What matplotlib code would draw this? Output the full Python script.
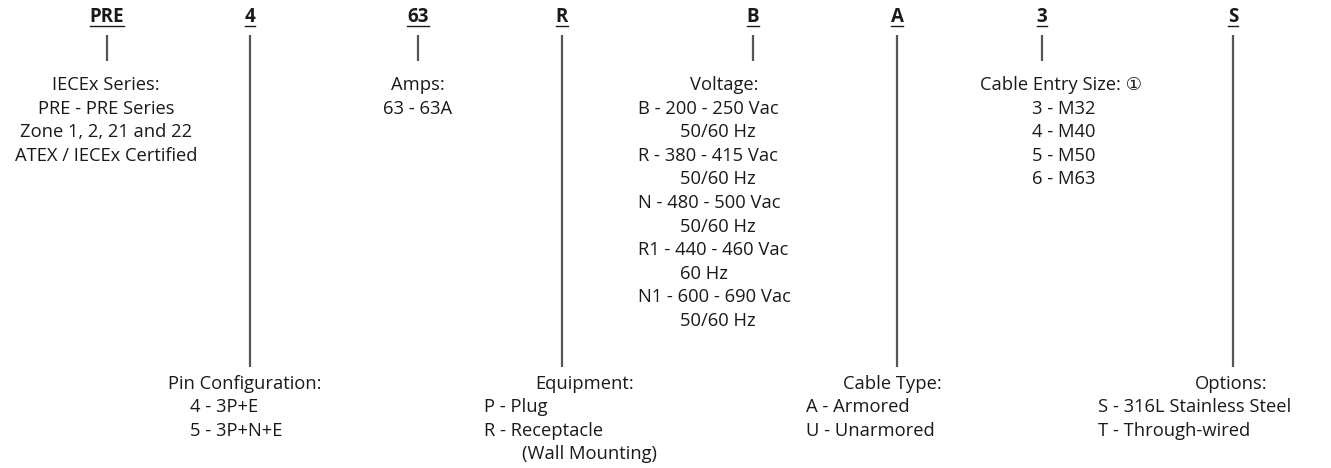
import matplotlib.pyplot as plt
import matplotlib

plt.rcParams['font.family'] = ['Open Sans', 'DejaVu Sans']

# code letters of the part number, left to right
codes = ['PRE', '4', '63', 'R', 'B', 'A', '3', 'S']

# description block for each code
titles = ['IECEx Series:', 'Pin Configuration:', 'Amps:', 'Equipment:',
          'Voltage:', 'Cable Type:', 'Cable Entry Size: \u2460', 'Options:']
items = [
    ['PRE - PRE Series', 'Zone 1, 2, 21 and 22', 'ATEX / IECEx Certified'],
    ['4 - 3P+E', '5 - 3P+N+E'],
    ['63 - 63A'],
    ['P - Plug', 'R - Receptacle', '(Wall Mounting)'],
    ['B - 200 - 250 Vac', '50/60 Hz', 'R - 380 - 415 Vac', '50/60 Hz',
     'N - 480 - 500 Vac', '50/60 Hz', 'R1 - 440 - 460 Vac', '60 Hz',
     'N1 - 600 - 690 Vac', '50/60 Hz'],
    ['A - Armored', 'U - Unarmored'],
    ['3 - M32', '4 - M40', '5 - M50', '6 - M63'],
    ['S - 316L Stainless Steel', 'T - Through-wired'],
]
# lines that continue the previous item (indented)
indented = {'50/60 Hz', '60 Hz', '(Wall Mounting)'}

# layout (pixels): column x, block low/high, text x for title / items / continuation
col_x = [107, 250, 418, 562, 753, 897, 1042, 1233]
low = [False, True, False, True, False, True, False, True]
title_x = [106, 168, 418, 535, 690, 843, 980, 1195]
item_x = [106, 190, 418, 484, 638, 806, 1032, 1098]
cont_x = [106, 190, 418, 522, 680, 806, 1032, 1098]
centered = [True, False, True, False, False, False, False, False]

W, H = 1331, 468
fig = plt.figure(figsize=(W / 100, H / 100), dpi=100)
ax = fig.add_axes([0, 0, 1, 1])
ax.set_xlim(0, W)
ax.set_ylim(H, 0)
ax.axis('off')

body_size = 13.2
step_top = 23.6
step_low = 23.3
line_col = '#555555'
txt_col = '#1a1a1a'

code_texts = []
for i, c in enumerate(codes):
    t = ax.text(col_x[i], 17, c, ha='center', va='center', fontsize=13.5,
                fontweight='bold', color=txt_col)
    code_texts.append(t)
    y_end = 367 if low[i] else 61
    ax.plot([col_x[i], col_x[i]], [35, y_end], color=line_col, lw=1.6,
            solid_capstyle='butt')

    y0 = 384 if low[i] else 85
    step = step_low if low[i] else step_top
    ha = 'center' if centered[i] else 'left'
    ax.text(title_x[i], y0, titles[i], ha=ha, va='center', fontsize=body_size,
            color=txt_col)
    for j, line in enumerate(items[i]):
        x = cont_x[i] if line in indented else item_x[i]
        ax.text(x, y0 + (j + 1) * step, line, ha=ha, va='center',
                fontsize=body_size, color=txt_col)

# underline the code letters using their rendered extents
fig.canvas.draw()
inv = ax.transData.inverted()
for t in code_texts:
    bb = t.get_window_extent()
    (x0, _), (x1, _) = inv.transform([[bb.x0, bb.y0], [bb.x1, bb.y1]])
    ax.plot([x0, x1], [26, 26], color=txt_col, lw=1.0)

fig.savefig('out.png', dpi=100)
